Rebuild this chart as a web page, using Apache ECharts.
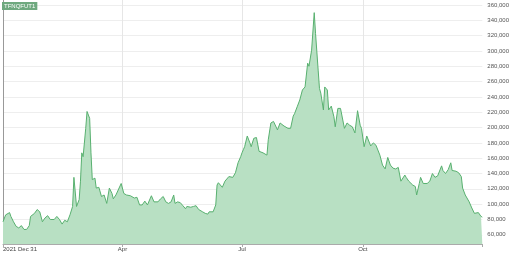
<!DOCTYPE html>
<html>
<head>
<meta charset="utf-8">
<script src="https://cdn.jsdelivr.net/npm/echarts@6/dist/echarts.min.js"></script>
<style>html,body{margin:0;padding:0;background:#fff}#c{width:512px;height:254px}</style>
</head>
<body>
<div id="c"></div>
<script>
// Days since 2021-12-31
const days = [0,2,5,6,8,10,12,14,16,18,20,21,24,26,28,30,32,34,36,39,41,43,45,47,49,51,53,54,56,58,59,60,61,63,64,66,67,68,70,71,73,75,77,79,81,83,84,86,90,92,94,97,100,102,104,106,108,110,113,115,118,120,122,124,126,128,130,131,133,135,137,139,140,143,145,147,149,152,154,156,157,160,162,163,164,167,169,172,173,175,177,179,181,182,183,184,186,188,189,191,193,195,198,201,202,204,206,209,211,214,217,219,221,222,224,226,228,230,232,233,235,237,238,240,241,242,244,245,247,248,250,252,253,255,257,260,262,264,266,268,270,272,273,275,277,278,280,282,284,287,289,291,293,295,297,299,301,303,306,307,309,310,312,314,315,317,318,320,323,325,327,329,331,334,335,337,339,341,342,345,347,349,350,352,355,357,359,360,362,364,365];
const values = [77000,86000,89000,84000,77000,71000,69000,72000,67000,67000,72000,84000,88000,93000,90000,77000,82000,85000,80000,80000,84000,80000,74000,79000,77000,86000,97000,135000,97000,106000,130000,167000,162000,199000,221000,212000,167000,132000,134000,121000,122000,110000,112000,101000,121000,114000,107000,112000,127000,114000,112000,111000,108000,109000,99000,99000,104000,99000,111000,103000,103000,107000,110000,103000,101000,103000,112000,101000,103000,102000,98000,94000,97000,96000,97000,98000,93000,90000,88000,87000,90000,90000,99000,125000,128000,122000,130000,136000,134000,135000,141000,154000,162000,167000,171000,175000,189000,180000,175000,186000,187000,169000,167000,164000,184000,206000,208000,197000,206000,202000,199000,199000,215000,218000,227000,236000,249000,253000,284000,280000,301000,350000,323000,275000,251000,245000,223000,253000,249000,223000,228000,214000,201000,225000,225000,199000,206000,203000,201000,193000,222000,203000,199000,175000,189000,188000,176000,180000,177000,164000,151000,146000,161000,151000,147000,146000,148000,130000,138000,135000,130000,132000,125000,123000,112000,127000,135000,127000,127000,130000,140000,135000,137000,150000,144000,140000,145000,154000,144000,143000,141000,136000,121000,112000,103000,95000,88000,86000,89000,84000,83000];
const yTicks = [60000,80000,100000,120000,140000,160000,180000,200000,220000,240000,260000,280000,300000,320000,340000,360000];
const xTickDays = [0,91,182,274];
const xTickLabels = ['2021 Dec 31','Apr','Jul','Oct'];
const seriesName = 'TFNQFUT1';

const data = days.map((d,i)=>[d, values[i]]);
const chart = echarts.init(document.getElementById('c'), null, {renderer:'canvas'});
chart.setOption({
  animation:false,
  title:{text:seriesName,left:2,top:2,padding:[1,2],backgroundColor:'#6fa97f',
    textStyle:{color:'#fff',fontSize:6,fontWeight:'normal',fontFamily:'Liberation Sans'}},
  grid:{left:0,right:27,top:0,bottom:10},
  xAxis:{type:'value',min:0,max:365,
    axisLine:{show:true,lineStyle:{color:'#aaa',width:1}},
    axisTick:{show:true,length:3,lineStyle:{color:'#aaa'},customValues:[0,91,182,274,365]},
    axisLabel:{customValues:xTickDays,color:'#444',fontSize:6,margin:2,fontFamily:'Liberation Sans',
      alignMinLabel:'left',
      formatter:(v)=>{const i=xTickDays.indexOf(v);return i>=0?xTickLabels[i]:'';}},
    splitLine:{show:true,showMinLine:false,showMaxLine:false,lineStyle:{color:'#e6e6e6',width:1}}},
  yAxis:{type:'value',position:'right',min:48000,max:366500,
    axisLine:{show:true,lineStyle:{color:'#999',width:1}},
    axisTick:{show:false,customValues:yTicks},
    axisLabel:{customValues:yTicks,color:'#555',fontSize:6,margin:5,fontFamily:'Liberation Sans',
      formatter:(v)=>v.toLocaleString('en-US')},
    splitLine:{show:true,lineStyle:{color:'#eeeeee',width:1}}},
  series:[{type:'line',name:seriesName,data:data,symbol:'none',
    lineStyle:{color:'#58b06f',width:1},
    areaStyle:{color:'#b8e0c3',opacity:1}}]
});
</script>
</body>
</html>
